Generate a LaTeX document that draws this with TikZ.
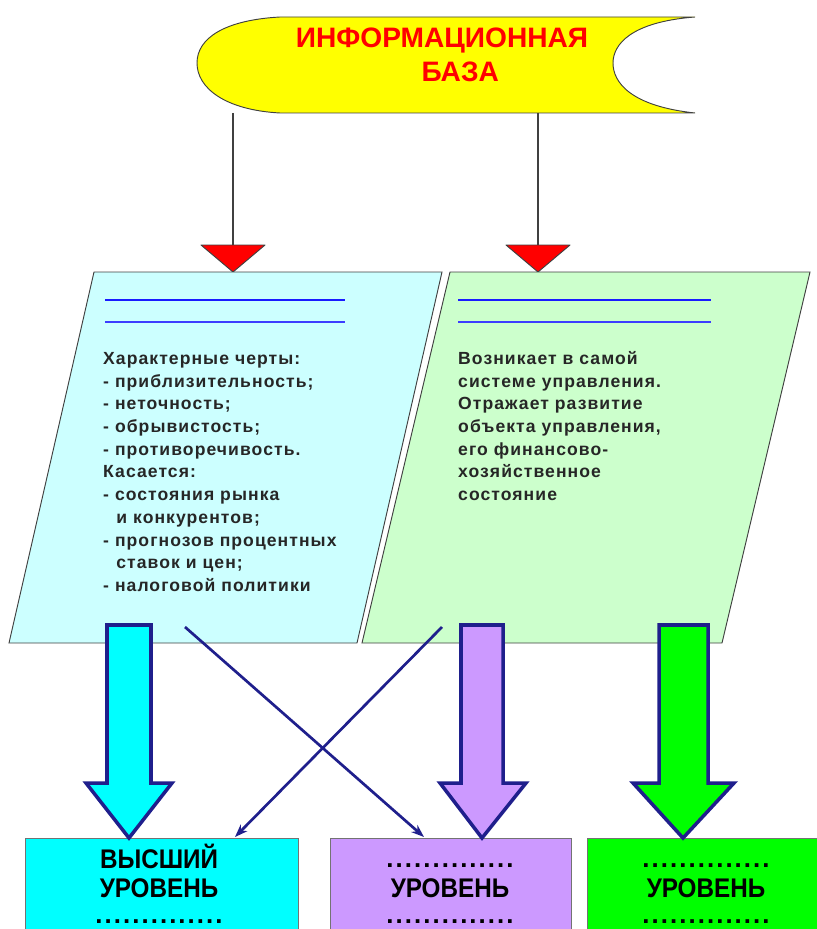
\documentclass[tikz,border=0pt]{standalone}
\usepackage{fontspec}
\setmainfont{Liberation Sans}
\newfontfamily\narrowfont[FakeStretch=0.9]{Liberation Sans}
\newfontfamily\notefont[LetterSpace=6]{Liberation Sans}
\newfontfamily\dotfont[LetterSpace=8]{Liberation Sans}
\usetikzlibrary{arrows.meta}
\definecolor{basefill}{HTML}{FFFF00}
\definecolor{leftfill}{HTML}{CCFFFF}
\definecolor{rightfill}{HTML}{CCFFCC}
\definecolor{topfill}{HTML}{00FFFF}
\definecolor{midfill}{HTML}{CC99FF}
\definecolor{lowfill}{HTML}{00FF00}
\definecolor{navy}{HTML}{1F1F8C}
\definecolor{rulecol}{HTML}{1A1AFF}

\begin{document}
\begin{tikzpicture}
  [x=0.03cm,y=-0.03cm,
   outline/.style={draw=black!75,line width=0.8pt},
   feed/.style={draw=black!75,line width=1pt},
   drop/.style={outline,fill=red,line join=round},
   fat/.style={draw=navy,line width=3pt,line join=miter},
   cross/.style={draw=navy,line width=2.3pt,-{Stealth[length=11pt,width=8pt]}},
   levelbox/.style={draw=black!55,line width=0.8pt},
   notes/.style={align=left,anchor=north west,inner sep=0pt,
     font=\notefont\fontsize{15}{19.4}\selectfont\bfseries,text=black!85},
   level/.style={anchor=base,inner sep=0pt,
     font=\narrowfont\fontsize{23}{25}\selectfont\bfseries},
   dots/.style={anchor=base,inner sep=0pt,
     font=\dotfont\fontsize{22}{25}\selectfont\bfseries}]
  \useasboundingbox (0,0) rectangle (816,929);
  % information base
  \draw[outline,fill=basefill] (280,17) -- (695,17)
    .. controls (630,22) and (613,45) .. (613,63)
    .. controls (613,82) and (630,106) .. (695,113)
    -- (280,113) .. controls (225,110) and (197,88) .. (197,63)
    .. controls (197,38) and (225,20) .. cycle;
  \node[text=red,align=center,font=\fontsize{24}{29}\selectfont\bfseries]
    (title) at (442,55) {ИНФОРМАЦИОННАЯ\\\hspace*{1.3em}БАЗА};
  \foreach \x/\n in {233/L,538/R} {
    \coordinate (src\n) at (\x,113);
    \coordinate (drop\n) at (\x,245);
    \draw[feed] (src\n) -- (drop\n);
    \draw[drop] (\x-32,245) -- (\x+32,245) -- (\x,272) -- cycle;
  }
  % the two sources
  \draw[outline,fill=leftfill] (94,272) -- (442,272) -- (357,643) -- (9,643) -- cycle;
  \draw[outline,fill=rightfill] (450,272) -- (810,272) -- (722,643) -- (362,643) -- cycle;
  \foreach \a/\b in {105/345,458/711} {
    \draw[rulecol,line width=2.4pt] (\a,300) -- (\b,300);
    \draw[rulecol!85,line width=1.6pt] (\a,322) -- (\b,322);
  }
  \node[notes] (outer) at (103,352) {Характерные черты:\\
    - приблизительность;\\
    - неточность;\\
    - обрывистость;\\
    - противоречивость.\\
    Касается:\\
    - состояния рынка\\
    \hspace{0.75em}и конкурентов;\\
    - прогнозов процентных\\
    \hspace{0.75em}ставок и цен;\\
    - налоговой политики};
  \node[notes] (inner) at (458,351) {Возникает в самой\\
    системе управления.\\
    Отражает развитие\\
    объекта управления,\\
    его финансово-\\
    хозяйственное\\
    состояние};
  % levels
  \draw[levelbox,fill=topfill] (25,838) rectangle (298,940);
  \draw[levelbox,fill=midfill] (330,838) rectangle (571,940);
  \draw[levelbox,fill=lowfill] (587,838) rectangle (830,940);
  \node[level] (topA) at (159,868) {ВЫСШИЙ};
  \node[level] (topB) at (159,897) {УРОВЕНЬ};
  \node[dots] (topC) at (159,923) {..............};
  \foreach \x/\n in {450/mid,706/low} {
    \node[dots] (\n A) at (\x,867) {..............};
    \node[level] (\n B) at (\x,897) {УРОВЕНЬ};
    \node[dots] (\n C) at (\x,923) {..............};
  }
  \foreach \a/\b/\c/\d/\m/\col in {107/151/86/172/129/topfill,
      461/503/440/526/482/midfill,659/708/633/734/683/lowfill}
    \draw[fat,fill=\col] (\a,625) -- (\b,625) -- (\b,783) -- (\d,783)
      -- (\m,838) -- (\c,783) -- (\a,783) -- cycle;
  \coordinate (fromL) at (185,627);
  \coordinate (toMid) at (424,837);
  \coordinate (fromR) at (442,627);
  \coordinate (toTop) at (235,837);
  \draw[cross] (fromL) -- (toMid);
  \draw[cross] (fromR) -- (toTop);
\end{tikzpicture}
\end{document}
